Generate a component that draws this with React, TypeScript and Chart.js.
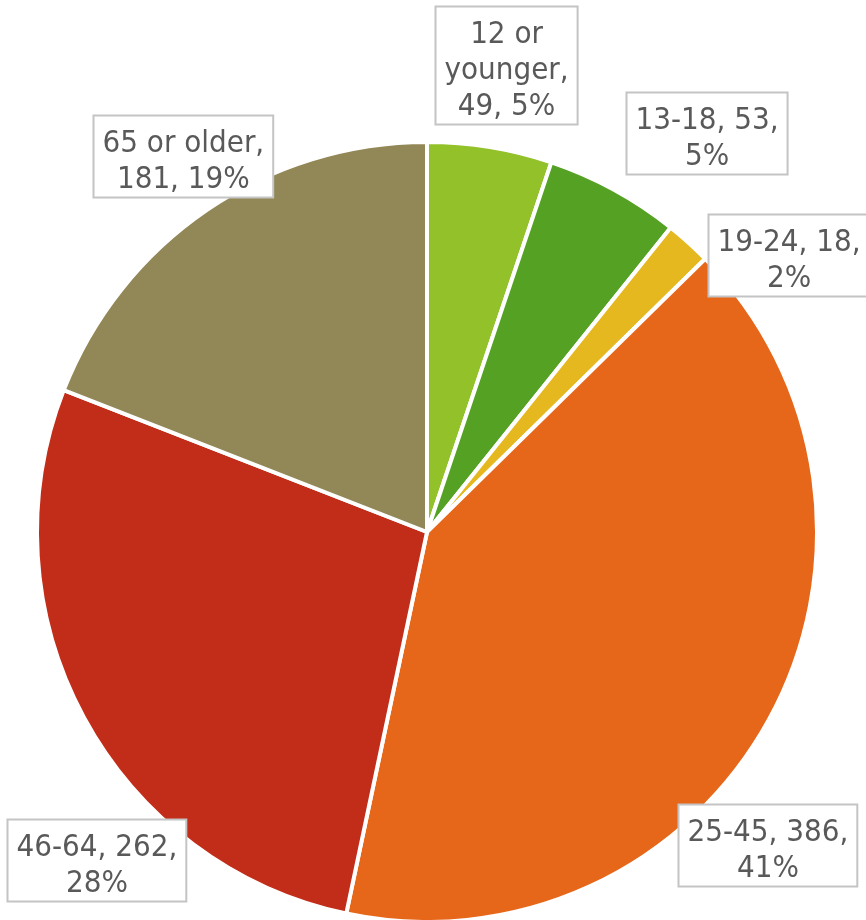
import React, { useEffect, useRef } from "react";
import { Chart, registerables } from "chart.js";

Chart.register(...registerables);

const categories = ["12 or younger", "13-18", "19-24", "25-45", "46-64", "65 or older"];
const values = [49, 53, 18, 386, 262, 181];
const percents = [5, 5, 2, 41, 28, 19];
const colors = ["#92C12A", "#55A124", "#E6B81F", "#E66719", "#C22D19", "#928756"];
// label lines (wrapped text as in the reference)
const labelLines = [
  ["12 or", "younger,", "49, 5%"],
  ["13-18, 53,", "5%"],
  ["19-24, 18,", "2%"],
  ["25-45, 386,", "41%"],
  ["46-64, 262,", "28%"],
  ["65 or older,", "181, 19%"],
];
// label placement: angle (deg, clockwise from top) and distance as factor of radius
const labelAngle = [9.6, 35, 52.5, 132.6, 225.2, 327];
const labelDist = [1.215, 1.249, 1.167, 1.187, 1.195, 1.149];

const FONT = '31px "DejaVu Sans Condensed", "DejaVu Sans", sans-serif';
const LINE_H = 36;

const labelPlugin = {
  id: "boxLabels",
  afterDraw(chart: any) {
    const ctx = chart.ctx as CanvasRenderingContext2D;
    const meta = chart.getDatasetMeta(0);
    const arc0 = meta.data[0] as any;
    const cx = arc0.x;
    const cy = arc0.y;
    const r = arc0.outerRadius;
    ctx.save();
    ctx.font = FONT;
    try { (ctx as any).fontStretch = "condensed"; } catch (e) {}
    ctx.textAlign = "center";
    ctx.textBaseline = "alphabetic";
    labelLines.forEach((lines, i) => {
      const a = (labelAngle[i] * Math.PI) / 180;
      const d = labelDist[i] * r;
      const x = cx + d * Math.sin(a);
      const y = cy - d * Math.cos(a);
      const w = Math.max(...lines.map((l) => ctx.measureText(l).width)) + 18;
      const h = lines.length * LINE_H + 10;
      const left = Math.round(x - w / 2) + 0.5;
      const top = Math.round(y - h / 2) + 0.5;
      ctx.fillStyle = "#ffffff";
      ctx.fillRect(left, top, w, h);
      ctx.strokeStyle = "#c4c4c4";
      ctx.lineWidth = 2;
      ctx.strokeRect(left, top, w, h);
      ctx.fillStyle = "#595959";
      lines.forEach((l, j) => {
        ctx.fillText(l, left + w / 2, top + 36 + j * LINE_H);
      });
    });
    ctx.restore();
  },
};

export default function App() {
  const ref = useRef<HTMLCanvasElement>(null);
  useEffect(() => {
    if (!ref.current) return;
    const chart = new Chart(ref.current, {
      type: "pie",
      data: {
        labels: categories,
        datasets: [
          {
            data: values,
            backgroundColor: colors,
            borderColor: "#ffffff",
            borderWidth: 4,
          },
        ],
      },
      options: {
        responsive: false,
        animation: false,
        devicePixelRatio: 1,
        radius: 390,
        layout: { padding: { left: 37, right: 49, top: 144, bottom: 0 } },
        plugins: {
          legend: { display: false },
          tooltip: { enabled: false },
          title: { display: false },
        },
      } as any,
      plugins: [labelPlugin],
    });
    return () => chart.destroy();
  }, []);
  return (
    <div style={{ position: "absolute", left: 0, top: 0, width: 866, height: 920, background: "#fff" }}>
      <canvas ref={ref} width={866} height={920} style={{ display: "block" }} />
    </div>
  );
}
